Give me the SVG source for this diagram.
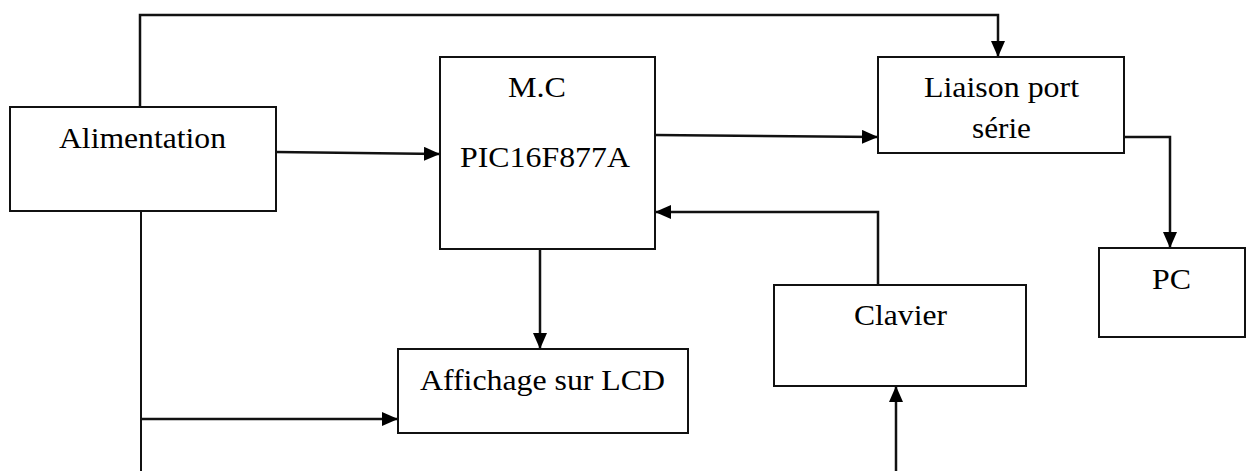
<svg xmlns="http://www.w3.org/2000/svg" width="1247" height="471" viewBox="0 0 1247 471">
<style>
.box{fill:#fff;stroke:#111;stroke-width:2}
.ln{fill:none;stroke:#111;stroke-width:2}
.ar{fill:none;stroke:#111;stroke-width:2.5;marker-end:url(#ah)}
text{font-family:"Liberation Serif","Times New Roman",serif;font-size:30px;fill:#000}
</style>
<defs>
<marker id="ah" markerUnits="userSpaceOnUse" markerWidth="16" markerHeight="14" refX="16" refY="7" orient="auto">
<path d="M0,0 L16,7 L0,14 Z" fill="#000"/>
</marker>
</defs>
<rect width="1247" height="471" fill="#fff"/>
<g id="connectors">
<path class="ar" d="M140,107 V15 H998 V57"/>
<path class="ar" d="M276,152 L440,154"/>
<path class="ar" d="M655,135 L878,137"/>
<path class="ar" d="M1124,137 H1170 V248"/>
<path class="ar" d="M878,285 V212 H655"/>
<path class="ar" d="M540,249 V349"/>
<path class="ln" d="M141,211 V471"/>
<path class="ar" d="M141,419 H398"/>
<path class="ar" d="M896,471 V386"/>
</g>
<g id="alimentation">
<rect class="box" x="10" y="107" width="266" height="104"/>
<text x="59" y="148" textLength="167" lengthAdjust="spacingAndGlyphs">Alimentation</text>
</g>
<g id="mc">
<rect class="box" x="440" y="57" width="215" height="192"/>
<text x="508" y="97" textLength="58" lengthAdjust="spacingAndGlyphs">M.C</text>
<text x="460" y="167" textLength="170" lengthAdjust="spacingAndGlyphs">PIC16F877A</text>
</g>
<g id="liaison">
<rect class="box" x="878" y="57" width="246" height="96"/>
<text x="924" y="97" textLength="155" lengthAdjust="spacingAndGlyphs">Liaison port</text>
<text x="972" y="138" textLength="59" lengthAdjust="spacingAndGlyphs">série</text>
</g>
<g id="pc">
<rect class="box" x="1099" y="248" width="146" height="89"/>
<text x="1152" y="289" textLength="39" lengthAdjust="spacingAndGlyphs">PC</text>
</g>
<g id="clavier">
<rect class="box" x="774" y="285" width="252" height="101"/>
<text x="854" y="325" textLength="93" lengthAdjust="spacingAndGlyphs">Clavier</text>
</g>
<g id="affichage">
<rect class="box" x="398" y="349" width="290" height="84"/>
<text x="420" y="390" textLength="245" lengthAdjust="spacingAndGlyphs">Affichage sur LCD</text>
</g>
</svg>
